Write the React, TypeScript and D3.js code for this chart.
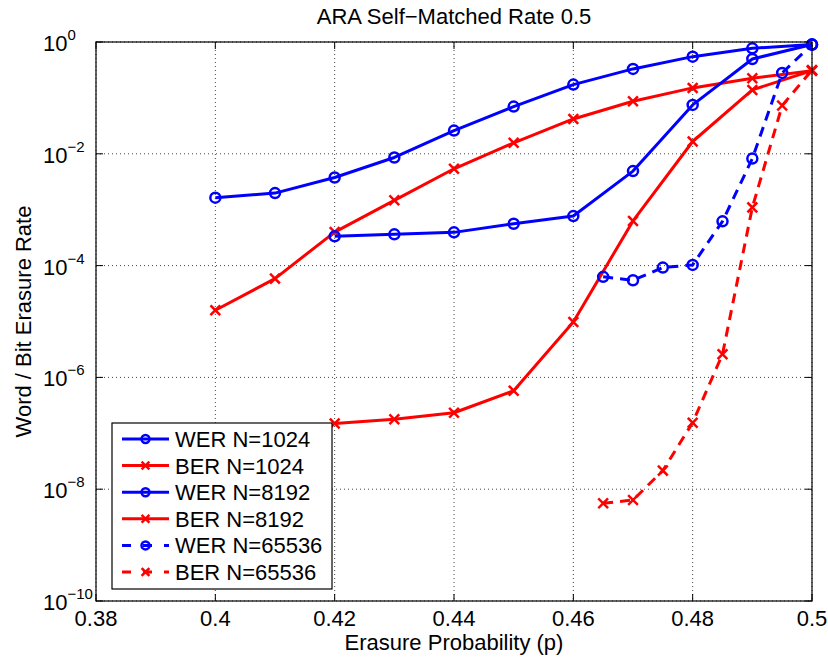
import React from "react";
import * as d3 from "d3";

const xs1024 = [0.40, 0.41, 0.42, 0.43, 0.44, 0.45, 0.46, 0.47, 0.48, 0.49, 0.50];
const wer1024 = [1.64e-3, 1.98e-3, 3.77e-3, 8.6e-3, 2.6e-2, 0.07, 0.173, 0.33, 0.547, 0.77, 0.9];
const ber1024 = [1.59e-5, 5.85e-5, 3.98e-4, 1.47e-3, 5.4e-3, 1.57e-2, 0.042, 0.087, 0.151, 0.224, 0.307];
const xs8192 = [0.42, 0.43, 0.44, 0.45, 0.46, 0.47, 0.48, 0.49, 0.50];
const wer8192 = [3.34e-4, 3.62e-4, 3.93e-4, 5.6e-4, 7.7e-4, 4.9e-3, 0.075, 0.497, 0.9];
const ber8192 = [1.5e-7, 1.78e-7, 2.33e-7, 5.77e-7, 9.8e-6, 6.3e-4, 0.0166, 0.139, 0.307];
const xs65536 = [0.465, 0.47, 0.475, 0.48, 0.485, 0.49, 0.495, 0.5];
const wer65536 = [6.3e-5, 5.46e-5, 9.2e-5, 1.03e-4, 6.2e-4, 8.2e-3, 0.28, 0.9];
const ber65536 = [5.6e-9, 6.4e-9, 2.15e-8, 1.55e-7, 2.6e-6, 1.1e-3, 0.073, 0.315];

const xTicks = [0.38, 0.4, 0.42, 0.44, 0.46, 0.48, 0.5];
const xTickLabels = ["0.38", "0.4", "0.42", "0.44", "0.46", "0.48", "0.5"];
const yTickExps = [0, -2, -4, -6, -8, -10];

const seriesNames = ["WER N=1024", "BER N=1024", "WER N=8192", "BER N=8192", "WER N=65536", "BER N=65536"];

const FONT = "'Liberation Sans', Arial, Helvetica, sans-serif";
const BLUE = "#0000ff";
const RED = "#ff0000";

type Series = { name: string; xs: number[]; ys: number[]; color: string; marker: "o" | "x"; dashed: boolean };

const series: Series[] = [
  { name: seriesNames[0], xs: xs1024, ys: wer1024, color: BLUE, marker: "o", dashed: false },
  { name: seriesNames[1], xs: xs1024, ys: ber1024, color: RED, marker: "x", dashed: false },
  { name: seriesNames[2], xs: xs8192, ys: wer8192, color: BLUE, marker: "o", dashed: false },
  { name: seriesNames[3], xs: xs8192, ys: ber8192, color: RED, marker: "x", dashed: false },
  { name: seriesNames[4], xs: xs65536, ys: wer65536, color: BLUE, marker: "o", dashed: true },
  { name: seriesNames[5], xs: xs65536, ys: ber65536, color: RED, marker: "x", dashed: true },
];

function Marker({ kind, x, y, color, size }: { kind: "o" | "x"; x: number; y: number; color: string; size: number }) {
  if (kind === "o") {
    return <circle cx={x} cy={y} r={size} fill="none" stroke={color} strokeWidth={2.5} />;
  }
  const s = size;
  return (
    <g stroke={color} strokeWidth={2.5} strokeLinecap="square">
      <line x1={x - s} y1={y - s} x2={x + s} y2={y + s} />
      <line x1={x - s} y1={y + s} x2={x + s} y2={y - s} />
    </g>
  );
}

export default function App() {
  const L = 96, R = 812, T = 42, B = 601;
  const x = d3.scaleLinear().domain([0.38, 0.5]).range([L, R]);
  const y = d3.scaleLog().domain([1e-10, 1]).range([B, T]);

  const line = d3
    .line<[number, number]>()
    .x((d) => x(d[0]))
    .y((d) => y(d[1]));

  const legX = 112, legY = 423, legW = 220, legH = 166;
  const rowH = 26.6;

  return (
    <svg width={828} height={660} style={{ position: "absolute", left: 0, top: 0, background: "#fff" }} fontFamily={FONT}>
      <rect x={0} y={0} width={828} height={660} fill="#fff" />
      {/* grid */}
      <g stroke="#444" strokeWidth={1} strokeDasharray="1,3">
        {xTicks.map((t) => (
          <line key={"gx" + t} x1={x(t)} x2={x(t)} y1={T} y2={B} />
        ))}
        {yTickExps.map((e) => (
          <line key={"gy" + e} x1={L} x2={R} y1={y(Math.pow(10, e))} y2={y(Math.pow(10, e))} />
        ))}
      </g>
      {/* ticks */}
      <g stroke="#000" strokeWidth={1}>
        {xTicks.map((t) => (
          <g key={"tx" + t}>
            <line x1={x(t)} x2={x(t)} y1={B} y2={B - 7} />
            <line x1={x(t)} x2={x(t)} y1={T} y2={T + 7} />
          </g>
        ))}
        {yTickExps.map((e) => (
          <g key={"ty" + e}>
            <line x1={L} x2={L + 7} y1={y(Math.pow(10, e))} y2={y(Math.pow(10, e))} />
            <line x1={R} x2={R - 7} y1={y(Math.pow(10, e))} y2={y(Math.pow(10, e))} />
          </g>
        ))}
      </g>
      {/* data */}
      {series.map((s, i) => {
        const pts: [number, number][] = s.xs.map((v, j) => [v, s.ys[j]]);
        return (
          <g key={"s" + i}>
            <path
              d={line(pts) || ""}
              fill="none"
              stroke={s.color}
              strokeWidth={3}
              strokeDasharray={s.dashed ? "10,7" : undefined}
              strokeLinejoin="round"
            />
            {pts.map((p, j) => (
              <Marker key={j} kind={s.marker} x={x(p[0])} y={y(p[1])} color={s.color} size={s.marker === "o" ? 5 : 4} />
            ))}
          </g>
        );
      })}
      {/* box */}
      <rect x={L} y={T} width={R - L} height={B - T} fill="none" stroke="#000" strokeWidth={1.2} />
      {/* tick labels */}
      <g fontSize={22} fill="#000">
        {xTicks.map((t, i) => (
          <text key={"lx" + t} x={x(t)} y={626} textAnchor="middle">
            {xTickLabels[i]}
          </text>
        ))}
        {yTickExps.map((e) => (
          <text key={"ly" + e} x={43} y={y(Math.pow(10, e)) + 9}>
            10
            <tspan fontSize={15} dy={-11}>
              {e === 0 ? "0" : "\u2212" + Math.abs(e)}
            </tspan>
          </text>
        ))}
      </g>
      {/* title & labels */}
      <text x={(L + R) / 2} y={24} textAnchor="middle" fontSize={22}>
        ARA Self{"\u2212"}Matched Rate 0.5
      </text>
      <text x={(L + R) / 2} y={650} textAnchor="middle" fontSize={22}>
        Erasure Probability (p)
      </text>
      <text transform={`translate(31, ${(T + B) / 2}) rotate(-90)`} textAnchor="middle" fontSize={22}>
        Word / Bit Erasure Rate
      </text>
      {/* legend */}
      <rect x={legX} y={legY} width={legW} height={legH} fill="#fff" stroke="#000" strokeWidth={1.2} />
      {series.map((s, i) => {
        const cy = legY + 16 + i * rowH;
        return (
          <g key={"lg" + i}>
            <line
              x1={122}
              x2={169}
              y1={cy}
              y2={cy}
              stroke={s.color}
              strokeWidth={3}
              strokeDasharray={s.dashed ? "9,12" : undefined}
              strokeDashoffset={s.dashed ? 0 : undefined}
            />
            <Marker kind={s.marker} x={145.5} y={cy} color={s.color} size={s.marker === "o" ? 4 : 3} />
            <text x={175} y={cy + 8} fontSize={22}>
              {s.name}
            </text>
          </g>
        );
      })}
    </svg>
  );
}
